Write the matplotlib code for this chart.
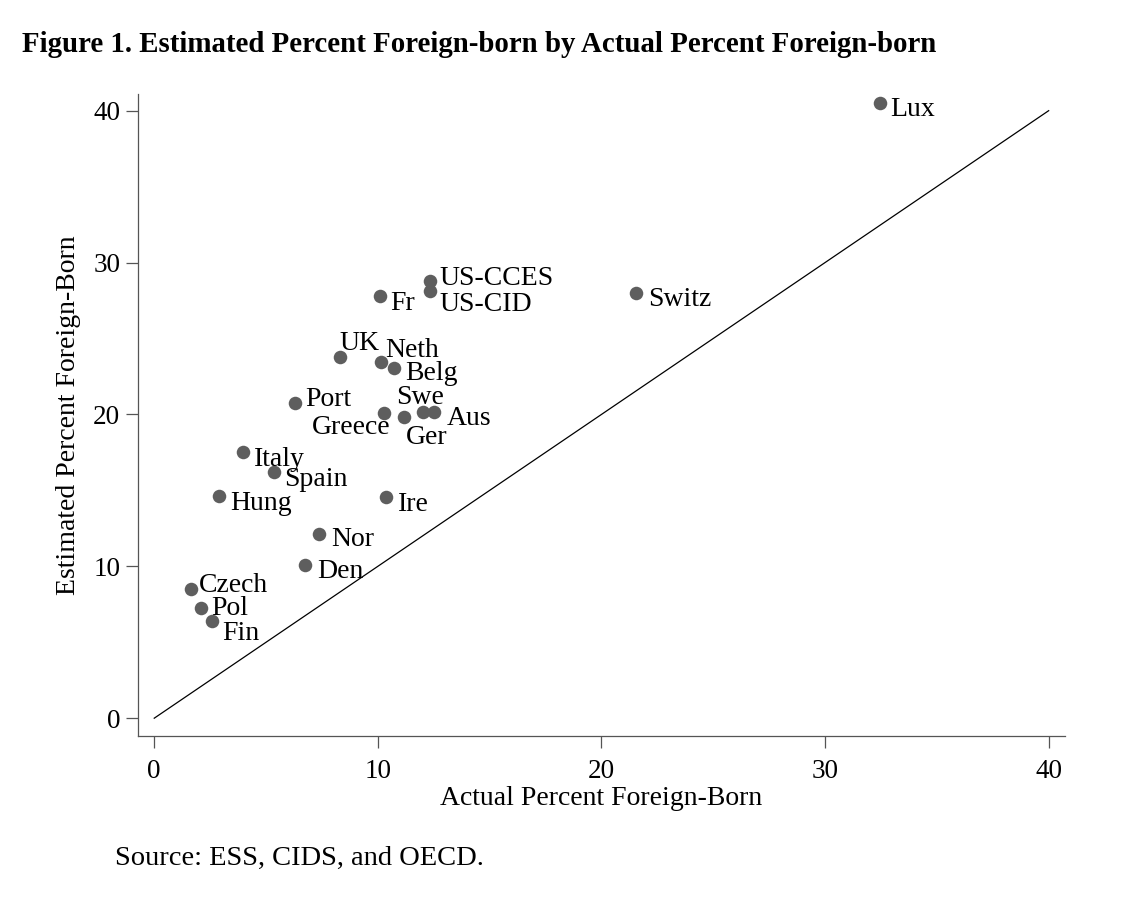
import matplotlib.pyplot as plt
import numpy as np

countries = ['Lux', 'Switz', 'US-CCES', 'US-CID', 'Fr', 'UK', 'Neth', 'Belg', 'Port',
             'Swe', 'Greece', 'Ger', 'Aus', 'Italy', 'Spain', 'Hung', 'Ire', 'Nor',
             'Den', 'Czech', 'Pol', 'Fin']
actual = [32.47, 21.54, 12.34, 12.34, 10.08, 8.32, 10.12, 10.71, 6.31,
          12.01, 10.27, 11.16, 12.53, 3.97, 5.34, 2.90, 10.38, 7.37,
          6.76, 1.63, 2.07, 2.58]
estimated = [40.53, 27.98, 28.81, 28.15, 27.80, 23.81, 23.48, 23.04, 20.74,
             20.18, 20.12, 19.86, 20.18, 17.51, 16.21, 14.61, 14.57, 12.11,
             10.07, 8.49, 7.24, 6.43]

# label offsets in pixels: dx right, dy down (to baseline), alignment
offsets = {
    'Lux': (10, 13, 'left'), 'Switz': (12, 13, 'left'), 'US-CCES': (9, 4, 'left'),
    'US-CID': (9, 20, 'left'), 'Fr': (11, 14, 'left'), 'UK': (-1, -7, 'left'),
    'Neth': (5, -5, 'left'), 'Belg': (11, 12, 'left'), 'Port': (10, 3, 'left'),
    'Swe': (-3, -8, 'center'), 'Greece': (7, 21, 'right'), 'Ger': (2, 27, 'left'),
    'Aus': (12, 13, 'left'), 'Italy': (11, 14, 'left'), 'Spain': (10, 14, 'left'),
    'Hung': (11, 14, 'left'), 'Ire': (12, 14, 'left'), 'Nor': (12, 12, 'left'),
    'Den': (12, 13, 'left'), 'Czech': (8, 3, 'left'), 'Pol': (11, 7, 'left'),
    'Fin': (10, 19, 'left'),
}

plt.rcParams['font.family'] = ['Liberation Serif', 'DejaVu Serif']
px = 72 / 100

fig = plt.figure(figsize=(11.24, 9.08), dpi=100)
ax = fig.add_axes([0.1225, 0.1898, 0.8250, 0.7067])

ax.plot([0, 40], [0, 40], color='black', lw=0.9)
ax.scatter(actual, estimated, s=95, color='#5e5e5e', zorder=3, linewidths=0)

for name, x, y in zip(countries, actual, estimated):
    dx, dy, ha = offsets[name]
    ax.annotate(name, (x, y), xytext=(dx * px, -dy * px), textcoords='offset points',
                ha=ha, va='baseline', fontsize=20)

ax.set_xlim(-0.74, 40.73)
ax.set_ylim(-1.15, 41.1)
ax.set_xticks([0, 10, 20, 30, 40])
ax.set_yticks([0, 10, 20, 30, 40])
ax.spines['top'].set_visible(False)
ax.spines['right'].set_visible(False)
for s in ['left', 'bottom']:
    ax.spines[s].set_color('#555555')
    ax.spines[s].set_linewidth(0.9)
ax.tick_params(direction='out', length=8.5, width=0.9, color='#555555',
               labelsize=19.5)
ax.tick_params(axis='x', pad=8)
ax.tick_params(axis='y', pad=4)

ax.set_xlabel('Actual Percent Foreign-Born', fontsize=20, labelpad=1.5)
ax.set_ylabel('Estimated Percent Foreign-Born', fontsize=20, labelpad=8.5)

fig.text(22 / 1124, 1 - 44 / 908, 'Figure 1. Estimated Percent Foreign-born by Actual Percent Foreign-born',
         fontsize=20.8, fontweight='bold', ha='left', va='center')
fig.text(115 / 1124, 1 - 858 / 908, 'Source: ESS, CIDS, and OECD.', fontsize=20.5,
         ha='left', va='center')

fig.savefig('out.png', dpi=100)
